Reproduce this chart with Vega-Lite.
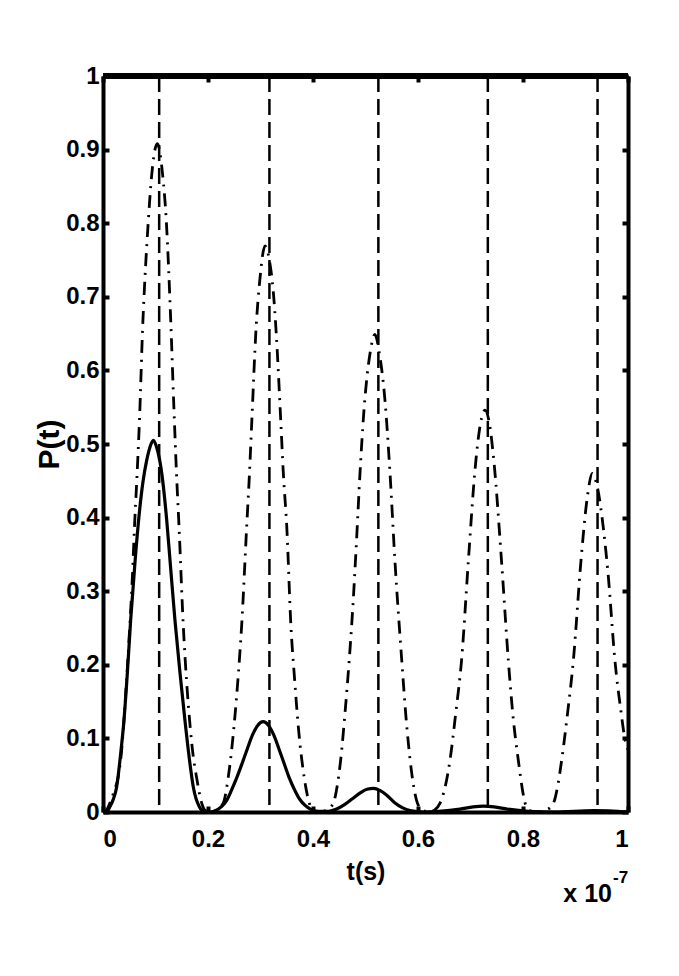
{
  "$schema": "https://vega.github.io/schema/vega-lite/v6.json",
  "width": 525,
  "height": 736,
  "autosize": {"type": "none"},
  "padding": {"left": 103, "top": 76, "right": 51, "bottom": 164},
  "background": "white",
  "config": {
    "view": {"stroke": null},
    "axis": {
      "domainColor": "black", "domainWidth": 4,
      "tickColor": "black", "tickWidth": 4, "tickSize": -6,
      "grid": false,
      "labelColor": "black", "labelFont": "Liberation Sans, Arial, sans-serif",
      "labelFontSize": 24, "labelFontWeight": "bold",
      "titleColor": "black", "titleFont": "Liberation Sans, Arial, sans-serif",
      "titleFontWeight": "bold"
    }
  },
  "datasets": {
    "curves": [
      {"t": 0, "p": 0, "s": "dashdot"},
      {"t": 0.006, "p": 0.002, "s": "dashdot"},
      {"t": 0.013, "p": 0.012, "s": "dashdot"},
      {"t": 0.021, "p": 0.028, "s": "dashdot"},
      {"t": 0.029, "p": 0.048, "s": "dashdot"},
      {"t": 0.035, "p": 0.08, "s": "dashdot"},
      {"t": 0.039, "p": 0.116, "s": "dashdot"},
      {"t": 0.045, "p": 0.18, "s": "dashdot"},
      {"t": 0.051, "p": 0.252, "s": "dashdot"},
      {"t": 0.056, "p": 0.32, "s": "dashdot"},
      {"t": 0.06, "p": 0.388, "s": "dashdot"},
      {"t": 0.065, "p": 0.46, "s": "dashdot"},
      {"t": 0.0695, "p": 0.533, "s": "dashdot"},
      {"t": 0.0756, "p": 0.66, "s": "dashdot"},
      {"t": 0.081, "p": 0.74, "s": "dashdot"},
      {"t": 0.0864, "p": 0.804, "s": "dashdot"},
      {"t": 0.0927, "p": 0.865, "s": "dashdot"},
      {"t": 0.1035, "p": 0.908, "s": "dashdot"},
      {"t": 0.1137, "p": 0.865, "s": "dashdot"},
      {"t": 0.1205, "p": 0.804, "s": "dashdot"},
      {"t": 0.129, "p": 0.668, "s": "dashdot"},
      {"t": 0.135, "p": 0.55, "s": "dashdot"},
      {"t": 0.14, "p": 0.46, "s": "dashdot"},
      {"t": 0.1448, "p": 0.388, "s": "dashdot"},
      {"t": 0.153, "p": 0.252, "s": "dashdot"},
      {"t": 0.159, "p": 0.18, "s": "dashdot"},
      {"t": 0.166, "p": 0.116, "s": "dashdot"},
      {"t": 0.172, "p": 0.075, "s": "dashdot"},
      {"t": 0.178, "p": 0.048, "s": "dashdot"},
      {"t": 0.188, "p": 0.012, "s": "dashdot"},
      {"t": 0.195, "p": 0.002, "s": "dashdot"},
      {"t": 0.205, "p": 0.0, "s": "dashdot"},
      {"t": 0.215, "p": 0.002, "s": "dashdot"},
      {"t": 0.229, "p": 0.012, "s": "dashdot"},
      {"t": 0.2387, "p": 0.048, "s": "dashdot"},
      {"t": 0.2495, "p": 0.116, "s": "dashdot"},
      {"t": 0.257, "p": 0.18, "s": "dashdot"},
      {"t": 0.264, "p": 0.252, "s": "dashdot"},
      {"t": 0.2737, "p": 0.388, "s": "dashdot"},
      {"t": 0.279, "p": 0.46, "s": "dashdot"},
      {"t": 0.284, "p": 0.54, "s": "dashdot"},
      {"t": 0.291, "p": 0.65, "s": "dashdot"},
      {"t": 0.299, "p": 0.725, "s": "dashdot"},
      {"t": 0.3086, "p": 0.769, "s": "dashdot"},
      {"t": 0.318, "p": 0.745, "s": "dashdot"},
      {"t": 0.324, "p": 0.71, "s": "dashdot"},
      {"t": 0.33, "p": 0.65, "s": "dashdot"},
      {"t": 0.3385, "p": 0.533, "s": "dashdot"},
      {"t": 0.3435, "p": 0.46, "s": "dashdot"},
      {"t": 0.35, "p": 0.388, "s": "dashdot"},
      {"t": 0.358, "p": 0.252, "s": "dashdot"},
      {"t": 0.365, "p": 0.18, "s": "dashdot"},
      {"t": 0.372, "p": 0.116, "s": "dashdot"},
      {"t": 0.383, "p": 0.048, "s": "dashdot"},
      {"t": 0.393, "p": 0.012, "s": "dashdot"},
      {"t": 0.4, "p": 0.002, "s": "dashdot"},
      {"t": 0.41, "p": 0.0, "s": "dashdot"},
      {"t": 0.425, "p": 0.002, "s": "dashdot"},
      {"t": 0.4387, "p": 0.012, "s": "dashdot"},
      {"t": 0.446, "p": 0.035, "s": "dashdot"},
      {"t": 0.4527, "p": 0.0707, "s": "dashdot"},
      {"t": 0.461, "p": 0.135, "s": "dashdot"},
      {"t": 0.469, "p": 0.2065, "s": "dashdot"},
      {"t": 0.476, "p": 0.28, "s": "dashdot"},
      {"t": 0.483, "p": 0.37, "s": "dashdot"},
      {"t": 0.4895, "p": 0.46, "s": "dashdot"},
      {"t": 0.497, "p": 0.545, "s": "dashdot"},
      {"t": 0.5086, "p": 0.623, "s": "dashdot"},
      {"t": 0.518, "p": 0.649, "s": "dashdot"},
      {"t": 0.526, "p": 0.625, "s": "dashdot"},
      {"t": 0.537, "p": 0.56, "s": "dashdot"},
      {"t": 0.5467, "p": 0.46, "s": "dashdot"},
      {"t": 0.556, "p": 0.342, "s": "dashdot"},
      {"t": 0.569, "p": 0.2065, "s": "dashdot"},
      {"t": 0.577, "p": 0.13, "s": "dashdot"},
      {"t": 0.585, "p": 0.0707, "s": "dashdot"},
      {"t": 0.599, "p": 0.012, "s": "dashdot"},
      {"t": 0.61, "p": 0.002, "s": "dashdot"},
      {"t": 0.62, "p": 0.0, "s": "dashdot"},
      {"t": 0.632, "p": 0.003, "s": "dashdot"},
      {"t": 0.642, "p": 0.012, "s": "dashdot"},
      {"t": 0.652, "p": 0.035, "s": "dashdot"},
      {"t": 0.661, "p": 0.0707, "s": "dashdot"},
      {"t": 0.672, "p": 0.135, "s": "dashdot"},
      {"t": 0.683, "p": 0.2065, "s": "dashdot"},
      {"t": 0.696, "p": 0.342, "s": "dashdot"},
      {"t": 0.7086, "p": 0.465, "s": "dashdot"},
      {"t": 0.719, "p": 0.528, "s": "dashdot"},
      {"t": 0.7276, "p": 0.546, "s": "dashdot"},
      {"t": 0.736, "p": 0.528, "s": "dashdot"},
      {"t": 0.7448, "p": 0.475, "s": "dashdot"},
      {"t": 0.759, "p": 0.342, "s": "dashdot"},
      {"t": 0.772, "p": 0.2065, "s": "dashdot"},
      {"t": 0.781, "p": 0.13, "s": "dashdot"},
      {"t": 0.791, "p": 0.0707, "s": "dashdot"},
      {"t": 0.804, "p": 0.012, "s": "dashdot"},
      {"t": 0.812, "p": 0.002, "s": "dashdot"},
      {"t": 0.825, "p": 0.0, "s": "dashdot"},
      {"t": 0.845, "p": 0.003, "s": "dashdot"},
      {"t": 0.858, "p": 0.012, "s": "dashdot"},
      {"t": 0.866, "p": 0.035, "s": "dashdot"},
      {"t": 0.8737, "p": 0.0707, "s": "dashdot"},
      {"t": 0.885, "p": 0.135, "s": "dashdot"},
      {"t": 0.896, "p": 0.2065, "s": "dashdot"},
      {"t": 0.9105, "p": 0.342, "s": "dashdot"},
      {"t": 0.922, "p": 0.425, "s": "dashdot"},
      {"t": 0.932, "p": 0.46, "s": "dashdot"},
      {"t": 0.942, "p": 0.44, "s": "dashdot"},
      {"t": 0.954, "p": 0.38, "s": "dashdot"},
      {"t": 0.9625, "p": 0.32, "s": "dashdot"},
      {"t": 0.975, "p": 0.2065, "s": "dashdot"},
      {"t": 0.986, "p": 0.14, "s": "dashdot"},
      {"t": 0.994, "p": 0.1, "s": "dashdot"},
      {"t": 1.0, "p": 0.085, "s": "dashdot"},

      {"t": 0, "p": 0, "s": "solid"},
      {"t": 0.008, "p": 0.001, "s": "solid"},
      {"t": 0.013, "p": 0.007, "s": "solid"},
      {"t": 0.02, "p": 0.018, "s": "solid"},
      {"t": 0.026, "p": 0.034, "s": "solid"},
      {"t": 0.033, "p": 0.075, "s": "solid"},
      {"t": 0.04, "p": 0.125, "s": "solid"},
      {"t": 0.0465, "p": 0.19, "s": "solid"},
      {"t": 0.0527, "p": 0.261, "s": "solid"},
      {"t": 0.061, "p": 0.34, "s": "solid"},
      {"t": 0.069, "p": 0.405, "s": "solid"},
      {"t": 0.076, "p": 0.448, "s": "solid"},
      {"t": 0.083, "p": 0.477, "s": "solid"},
      {"t": 0.09, "p": 0.497, "s": "solid"},
      {"t": 0.0959, "p": 0.505, "s": "solid"},
      {"t": 0.102, "p": 0.496, "s": "solid"},
      {"t": 0.112, "p": 0.46, "s": "solid"},
      {"t": 0.1213, "p": 0.397, "s": "solid"},
      {"t": 0.129, "p": 0.33, "s": "solid"},
      {"t": 0.137, "p": 0.261, "s": "solid"},
      {"t": 0.1465, "p": 0.19, "s": "solid"},
      {"t": 0.156, "p": 0.125, "s": "solid"},
      {"t": 0.164, "p": 0.075, "s": "solid"},
      {"t": 0.172, "p": 0.034, "s": "solid"},
      {"t": 0.1835, "p": 0.007, "s": "solid"},
      {"t": 0.192, "p": 0.001, "s": "solid"},
      {"t": 0.205, "p": 0.0, "s": "solid"},
      {"t": 0.215, "p": 0.002, "s": "solid"},
      {"t": 0.225, "p": 0.007, "s": "solid"},
      {"t": 0.235, "p": 0.015, "s": "solid"},
      {"t": 0.245, "p": 0.03, "s": "solid"},
      {"t": 0.255, "p": 0.047, "s": "solid"},
      {"t": 0.265, "p": 0.066, "s": "solid"},
      {"t": 0.275, "p": 0.086, "s": "solid"},
      {"t": 0.285, "p": 0.105, "s": "solid"},
      {"t": 0.295, "p": 0.118, "s": "solid"},
      {"t": 0.305, "p": 0.1227, "s": "solid"},
      {"t": 0.315, "p": 0.118, "s": "solid"},
      {"t": 0.325, "p": 0.105, "s": "solid"},
      {"t": 0.335, "p": 0.086, "s": "solid"},
      {"t": 0.345, "p": 0.066, "s": "solid"},
      {"t": 0.355, "p": 0.046, "s": "solid"},
      {"t": 0.365, "p": 0.03, "s": "solid"},
      {"t": 0.375, "p": 0.017, "s": "solid"},
      {"t": 0.385, "p": 0.009, "s": "solid"},
      {"t": 0.395, "p": 0.004, "s": "solid"},
      {"t": 0.41, "p": 0.001, "s": "solid"},
      {"t": 0.43, "p": 0.001, "s": "solid"},
      {"t": 0.445, "p": 0.004, "s": "solid"},
      {"t": 0.46, "p": 0.01, "s": "solid"},
      {"t": 0.475, "p": 0.018, "s": "solid"},
      {"t": 0.49, "p": 0.026, "s": "solid"},
      {"t": 0.503, "p": 0.031, "s": "solid"},
      {"t": 0.515, "p": 0.032, "s": "solid"},
      {"t": 0.528, "p": 0.029, "s": "solid"},
      {"t": 0.54, "p": 0.023, "s": "solid"},
      {"t": 0.555, "p": 0.013, "s": "solid"},
      {"t": 0.57, "p": 0.006, "s": "solid"},
      {"t": 0.585, "p": 0.002, "s": "solid"},
      {"t": 0.61, "p": 0.0, "s": "solid"},
      {"t": 0.64, "p": 0.001, "s": "solid"},
      {"t": 0.68, "p": 0.004, "s": "solid"},
      {"t": 0.705, "p": 0.007, "s": "solid"},
      {"t": 0.725, "p": 0.008, "s": "solid"},
      {"t": 0.745, "p": 0.007, "s": "solid"},
      {"t": 0.77, "p": 0.004, "s": "solid"},
      {"t": 0.81, "p": 0.001, "s": "solid"},
      {"t": 0.86, "p": 0.0, "s": "solid"},
      {"t": 0.935, "p": 0.002, "s": "solid"},
      {"t": 1.0, "p": 0.0, "s": "solid"},

      {"t": 0, "p": 1, "s": "one"},
      {"t": 1, "p": 1, "s": "one"}
    ],
    "refs": [
      {"t": 0.107},
      {"t": 0.317},
      {"t": 0.5245},
      {"t": 0.733},
      {"t": 0.942}
    ]
  },
  "layer": [
    {
      "data": {"name": "refs"},
      "mark": {"type": "rule", "color": "black", "strokeWidth": 2.5, "strokeDash": [16, 7]},
      "encoding": {
        "x": {"field": "t", "type": "quantitative", "scale": {"domain": [0, 1], "nice": false},
              "axis": {"orient": "top", "labels": false, "title": null, "values": [0, 0.2, 0.4, 0.6, 0.8, 1]}}
      }
    },
    {
      "data": {"name": "curves"},
      "transform": [{"filter": "datum.s === 'dashdot'"}],
      "mark": {"type": "line", "color": "black", "strokeWidth": 2.8, "strokeDash": [13, 7, 2, 7], "interpolate": "monotone"},
      "encoding": {
        "x": {"field": "t", "type": "quantitative", "scale": {"domain": [0, 1], "nice": false},
              "axis": {"orient": "bottom", "title": "t(s)", "titleFontSize": 25, "titlePadding": 8,
                       "values": [0, 0.2, 0.4, 0.6, 0.8, 1], "format": "~g", "labelPadding": 21}},
        "y": {"field": "p", "type": "quantitative", "scale": {"domain": [0, 1], "nice": false},
              "axis": {"orient": "left", "title": "P(t)", "titleFontSize": 30, "titlePadding": 1,
                       "values": [0, 0.1, 0.2, 0.3, 0.4, 0.5, 0.6, 0.7, 0.8, 0.9, 1], "format": "~g", "labelPadding": 10}}
      }
    },
    {
      "data": {"name": "curves"},
      "transform": [{"filter": "datum.s === 'solid'"}],
      "mark": {"type": "line", "color": "black", "strokeWidth": 3.2, "interpolate": "monotone"},
      "encoding": {
        "x": {"field": "t", "type": "quantitative", "scale": {"domain": [0, 1], "nice": false}, "axis": null},
        "y": {"field": "p", "type": "quantitative", "scale": {"domain": [0, 1], "nice": false}, "axis": null}
      }
    },
    {
      "data": {"name": "curves"},
      "transform": [{"filter": "datum.s === 'one'"}],
      "mark": {"type": "line", "color": "black", "strokeWidth": 6},
      "encoding": {
        "x": {"field": "t", "type": "quantitative", "scale": {"domain": [0, 1], "nice": false}, "axis": null},
        "y": {"field": "p", "type": "quantitative", "scale": {"domain": [0, 1], "nice": false},
              "axis": {"orient": "right", "labels": false, "title": null, "values": [0, 0.1, 0.2, 0.3, 0.4, 0.5, 0.6, 0.7, 0.8, 0.9, 1]}}
      }
    },
    {
      "data": {"values": [{"label": "x 10"}]},
      "mark": {"type": "text", "align": "right", "baseline": "alphabetic", "fontSize": 25, "fontWeight": "bold", "dx": -16,
               "font": "Liberation Sans, Arial, sans-serif", "color": "black", "clip": false},
      "encoding": {
        "text": {"field": "label"},
        "x": {"datum": 1, "type": "quantitative", "scale": {"domain": [0, 1], "nice": false}, "axis": null},
        "y": {"datum": -0.1223, "type": "quantitative", "scale": {"domain": [0, 1], "nice": false}, "axis": null}
      }
    },
    {
      "data": {"values": [{"label": "-7"}]},
      "mark": {"type": "text", "align": "left", "baseline": "alphabetic", "fontSize": 17, "fontWeight": "bold", "dx": -15, "dy": -19,
               "font": "Liberation Sans, Arial, sans-serif", "color": "black", "clip": false},
      "encoding": {
        "text": {"field": "label"},
        "x": {"datum": 1, "type": "quantitative", "scale": {"domain": [0, 1], "nice": false}, "axis": null},
        "y": {"datum": -0.1223, "type": "quantitative", "scale": {"domain": [0, 1], "nice": false}, "axis": null}
      }
    }
  ],
  "resolve": {"axis": {"x": "independent", "y": "independent"}}
}
